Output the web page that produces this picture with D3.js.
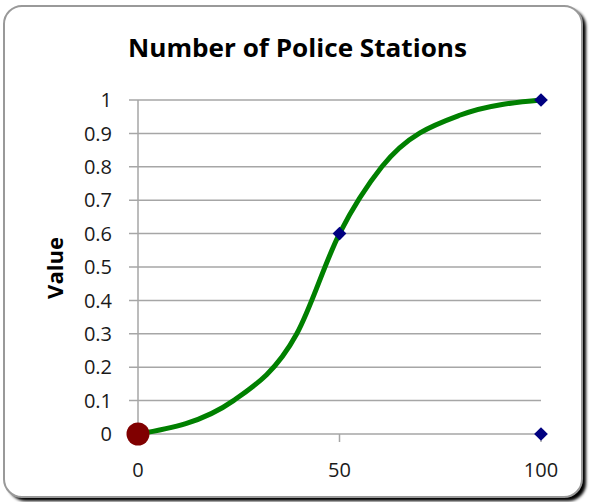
<!DOCTYPE html>
<meta charset="utf-8" />
<script src="https://d3js.org/d3.v7.js"></script>
<style>
	body { margin: 0; background: #fff; }
	text { font-family: "Open Sans", sans-serif; }
</style>
<div id="chart"></div>
<script>
	// curve points
	const curveX = [0, 23.7, 39.4, 50, 60.5, 80, 100];
	const curveY = [0, 0.1, 0.3, 0.6, 0.8, 0.955, 1];

	// diamond markers
	const markX = [50, 100, 100];
	const markY = [0.6, 1, 0];

	// start point (big red dot)
	const startX = [0];
	const startY = [0];

	const xTicks = [0, 50, 100];
	const yTicks = [0, 0.1, 0.2, 0.3, 0.4, 0.5, 0.6, 0.7, 0.8, 0.9, 1];

	const W = 589, H = 502;
	const margin = { top: 100, right: 48, bottom: 68, left: 138 };

	const svg = d3.select("#chart").append("svg")
		.attr("width", W)
		.attr("height", H);

	// shadow + frame
	const defs = svg.append("defs");
	defs.append("filter").attr("id", "blur")
		.attr("x", "-5%").attr("y", "-5%").attr("width", "110%").attr("height", "110%")
		.append("feGaussianBlur").attr("stdDeviation", 1.5);

	svg.append("rect")
		.attr("x", 8).attr("y", 9)
		.attr("width", 578).attr("height", 492)
		.attr("rx", 18)
		.attr("fill", "#000")
		.attr("filter", "url(#blur)");

	svg.append("rect")
		.attr("x", 4).attr("y", 6)
		.attr("width", 578).attr("height", 491)
		.attr("rx", 18)
		.attr("fill", "#fff")
		.attr("stroke", "#999")
		.attr("stroke-width", 2);

	const x = d3.scaleLinear().domain([0, 100]).range([margin.left, W - margin.right]);
	const y = d3.scaleLinear().domain([0, 1]).range([H - margin.bottom, margin.top]);

	// gridlines with the little tick stubs on the left
	svg.append("g")
		.selectAll("line")
		.data(yTicks)
		.join("line")
		.attr("x1", margin.left - 9)
		.attr("x2", x(100))
		.attr("y1", d => y(d))
		.attr("y2", d => y(d))
		.attr("stroke", "#a6a6a6")
		.attr("stroke-width", 1.5);

	// y axis line
	svg.append("line")
		.attr("x1", x(0)).attr("x2", x(0))
		.attr("y1", y(1)).attr("y2", y(0) + 8)
		.attr("stroke", "#a6a6a6")
		.attr("stroke-width", 1.5);

	// x tick stubs
	svg.append("g")
		.selectAll("line")
		.data(xTicks)
		.join("line")
		.attr("x1", d => x(d)).attr("x2", d => x(d))
		.attr("y1", y(0)).attr("y2", y(0) + 8)
		.attr("stroke", "#a6a6a6")
		.attr("stroke-width", 1.5);

	// tick labels
	svg.append("g")
		.selectAll("text")
		.data(yTicks)
		.join("text")
		.attr("x", 112)
		.attr("y", d => y(d))
		.attr("dy", "0.36em")
		.attr("text-anchor", "end")
		.attr("font-size", 20)
		.attr("fill", "#1a1a1a")
		.text(d => d3.format("~g")(d));

	svg.append("g")
		.selectAll("text")
		.data(xTicks)
		.join("text")
		.attr("x", d => x(d))
		.attr("y", 477)
		.attr("text-anchor", "middle")
		.attr("font-size", 20)
		.attr("fill", "#1a1a1a")
		.text(d => d);

	// title
	svg.append("text")
		.attr("x", 128)
		.attr("y", 57)
		.attr("font-size", 25)
		.attr("font-weight", "bold")
		.attr("textLength", 339)
		.attr("lengthAdjust", "spacingAndGlyphs")
		.text("Number of Police Stations");

	// y label
	svg.append("text")
		.attr("transform", "translate(63,268) rotate(-90)")
		.attr("text-anchor", "middle")
		.attr("font-size", 22)
		.attr("font-weight", "bold")
		.text("Value");

	// the green curve
	const pts = curveX.map((d, i) => [d, curveY[i]]);
	const line = d3.line()
		.x(d => x(d[0]))
		.y(d => y(d[1]))
		.curve(d3.curveMonotoneX);

	svg.append("path")
		.datum(pts)
		.attr("d", line)
		.attr("fill", "none")
		.attr("stroke", "#008000")
		.attr("stroke-width", 5);

	// diamonds
	svg.append("g")
		.selectAll("path")
		.data(markX.map((d, i) => [d, markY[i]]))
		.join("path")
		.attr("d", d3.symbol().type(d3.symbolDiamond2).size(120))
		.attr("transform", d => "translate(" + x(d[0]) + "," + y(d[1]) + ")")
		.attr("fill", "#000080");

	// red start dot
	svg.append("g")
		.selectAll("circle")
		.data(startX.map((d, i) => [d, startY[i]]))
		.join("circle")
		.attr("cx", d => x(d[0]))
		.attr("cy", d => y(d[1]))
		.attr("r", 11.5)
		.attr("fill", "#800000");
</script>
